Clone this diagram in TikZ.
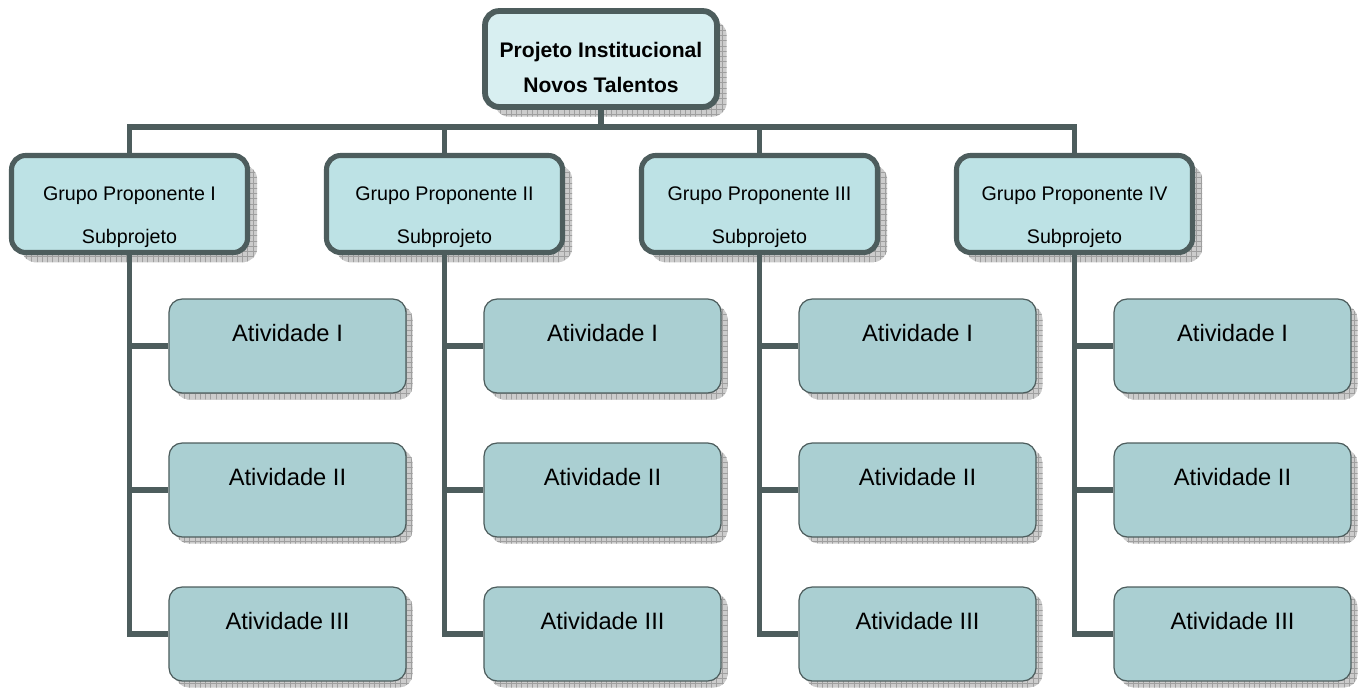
\documentclass[tikz,border=0pt]{standalone}
\usepackage{fontspec}
\setmainfont{Liberation Sans}
\usepackage{xcolor}
\usetikzlibrary{positioning,calc,patterns}

\definecolor{lineGray}{HTML}{4D5D5D}
\definecolor{topFill}{HTML}{D8EFF1}
\definecolor{grpFill}{HTML}{BDE2E5}
\definecolor{actFill}{HTML}{AACFD2}

\tikzset{
  shad/.style={
    preaction={fill=gray!40, transform canvas={shift={(#1,-#1)}}},
    preaction={pattern=grid, pattern color=gray!75, transform canvas={shift={(#1,-#1)}}}},
  topbox/.style={shad=5.5pt, draw=lineGray, line width=3.3pt, fill=topFill,
    rounded corners=8pt, minimum width=132pt, inner sep=0pt, align=center,
    font=\fontsize{12}{14.4}\selectfont\bfseries, text height=46.1pt, text depth=8.5pt},
  grpbox/.style={shad=5.5pt, draw=lineGray, line width=2.9pt, fill=grpFill,
    rounded corners=8pt, minimum width=134.3pt, inner sep=0pt, align=center,
    font=\fontsize{11.2}{13.4}\selectfont, text height=49.8pt, text depth=5.4pt},
  actbox/.style={shad=3.7pt, draw=lineGray, line width=0.7pt, fill=actFill,
    rounded corners=7.5pt, minimum width=134.9pt, inner sep=0pt, align=center,
    font=\fontsize{13.5}{16}\selectfont, text height=24.4pt, text depth=29.1pt},
  link/.style={draw=lineGray, line width=3pt}
}

\begin{document}
\begin{tikzpicture}[x=0.02cm, y=-0.02cm]
    \useasboundingbox (0,0) rectangle (1363,689);

    % Projeto
    \node[topbox] (proj) at (601,59) {Projeto Institucional\\[5.5pt]Novos Talentos};

    % Grupos proponentes
    \node[grpbox] (g1) at (129.5,204) {Grupo Proponente I\\[11pt]Subprojeto};
    \node[grpbox] (g2) at (444.5,204) {Grupo Proponente II\\[11pt]Subprojeto};
    \node[grpbox] (g3) at (759.5,204) {Grupo Proponente III\\[11pt]Subprojeto};
    \node[grpbox] (g4) at (1074.5,204) {Grupo Proponente IV\\[11pt]Subprojeto};

    % Atividades, grupo I
    \node[actbox] (a11) at (287.5,346) {Atividade I};
    \node[actbox] (a12) at (287.5,490) {Atividade II};
    \node[actbox] (a13) at (287.5,634) {Atividade III};

    % Atividades, grupo II
    \node[actbox] (a21) at (602.5,346) {Atividade I};
    \node[actbox] (a22) at (602.5,490) {Atividade II};
    \node[actbox] (a23) at (602.5,634) {Atividade III};

    % Atividades, grupo III
    \node[actbox] (a31) at (917.5,346) {Atividade I};
    \node[actbox] (a32) at (917.5,490) {Atividade II};
    \node[actbox] (a33) at (917.5,634) {Atividade III};

    % Atividades, grupo IV
    \node[actbox] (a41) at (1232.5,346) {Atividade I};
    \node[actbox] (a42) at (1232.5,490) {Atividade II};
    \node[actbox] (a43) at (1232.5,634) {Atividade III};

    % Barra superior
    \coordinate (bus) at (601,127);
    \draw[link] (proj.south) -- (proj.south |- bus);
    \draw[link] (g1.north) -- (g1.north |- bus) -- (g4.north |- bus) -- (g4.north);
    \draw[link] (g2.north) -- (g2.north |- bus);
    \draw[link] (g3.north) -- (g3.north |- bus);

    % Ramos das atividades
    \draw[link] (g1.south) |- (a13.west);
    \draw[link] (g1.south |- a11.west) -- (a11.west);
    \draw[link] (g1.south |- a12.west) -- (a12.west);
    \draw[link] (g2.south) |- (a23.west);
    \draw[link] (g2.south |- a21.west) -- (a21.west);
    \draw[link] (g2.south |- a22.west) -- (a22.west);
    \draw[link] (g3.south) |- (a33.west);
    \draw[link] (g3.south |- a31.west) -- (a31.west);
    \draw[link] (g3.south |- a32.west) -- (a32.west);
    \draw[link] (g4.south) |- (a43.west);
    \draw[link] (g4.south |- a41.west) -- (a41.west);
    \draw[link] (g4.south |- a42.west) -- (a42.west);
\end{tikzpicture}
\end{document}
